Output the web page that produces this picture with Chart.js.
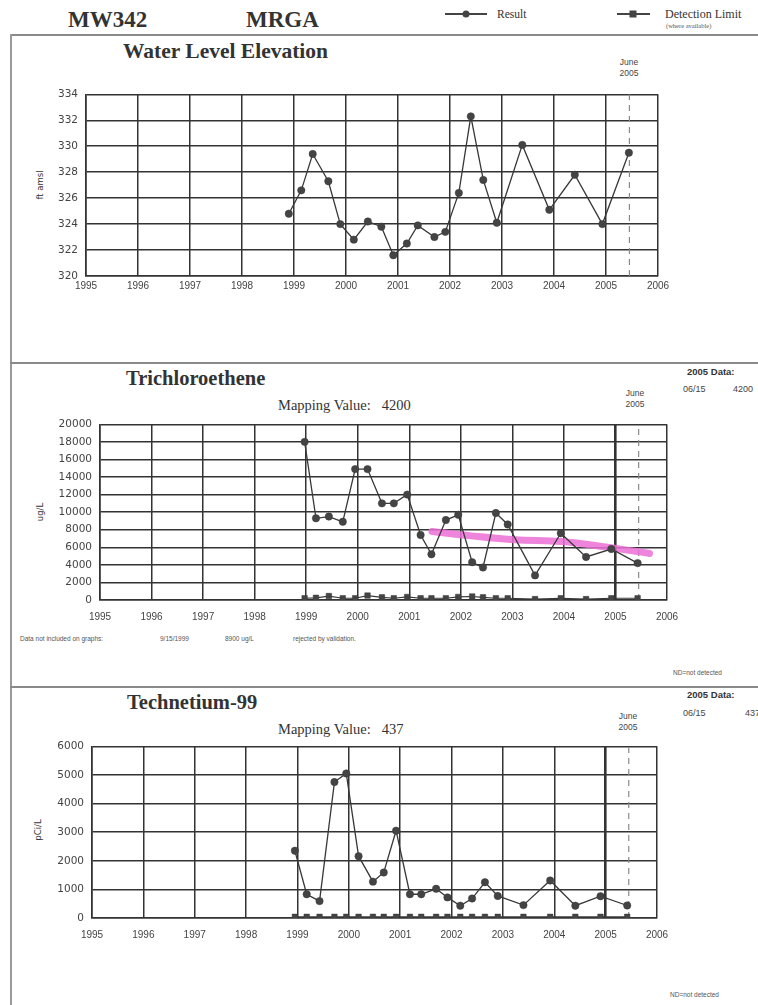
<!DOCTYPE html>
<html><head><meta charset="utf-8">
<script src="https://cdn.jsdelivr.net/npm/chart.js@4.4.1/dist/chart.umd.min.js"></script>
<style>
body{margin:0;background:#fff;width:758px;height:1005px;position:relative;overflow:hidden;font-family:"Liberation Serif",serif;color:#2a2a2a}
.t{position:absolute;white-space:pre;line-height:1;transform:translateY(-50%)}
.c{position:absolute;white-space:pre;line-height:1;transform:translate(-50%,-50%);text-align:center}
.r{position:absolute;white-space:pre;line-height:1;transform:translate(-50%,-50%) rotate(-90deg);font-family:"DejaVu Sans",sans-serif;font-size:8.5px;color:#333}
.rule{position:absolute;background:#8a8a8a}
canvas{position:absolute}
.h{font-weight:bold;font-size:23px;color:#333}
.ti{font-weight:bold;font-size:20.5px;color:#333}
.mv{font-size:14.5px;color:#333}
.jn{font-family:"Liberation Sans",Arial,sans-serif;font-size:8.5px;color:#444;line-height:1.25}
.dd{font-family:"Liberation Sans",Arial,sans-serif;font-weight:bold;font-size:9.5px;color:#333}
.dv{font-family:"Liberation Sans",Arial,sans-serif;font-size:9px;color:#444}
.sm{font-family:"Liberation Sans",Arial,sans-serif;font-size:6.5px;color:#555}
.lg{position:absolute;height:2px;background:#444}
.dot{position:absolute;width:7px;height:7px;border-radius:50%;background:#444;transform:translate(-50%,-50%)}
.sq{position:absolute;width:7px;height:7px;background:#444;transform:translate(-50%,-50%)}
</style></head><body>

<!-- header -->
<div class="t h" style="left:68px;top:19px">MW342</div>
<div class="t h" style="left:246px;top:19px">MRGA</div>
<div class="lg" style="left:445px;top:13px;width:42px"></div>
<div class="dot" style="left:466px;top:14px"></div>
<div class="t" style="left:497px;top:15px;font-size:11.5px;color:#333">Result</div>
<div class="lg" style="left:617px;top:13px;width:33px"></div>
<div class="sq" style="left:633px;top:14px"></div>
<div class="t" style="left:665px;top:14px;font-size:12px;color:#333">Detection Limit</div>
<div class="t" style="left:666px;top:26px;font-size:6.5px;color:#555">(where available)</div>

<div class="rule" style="left:10px;top:34px;width:748px;height:2px"></div>
<div class="rule" style="left:10px;top:34px;width:2px;height:971px;background:#9a9a9a"></div>
<div class="rule" style="left:10px;top:362px;width:748px;height:2px"></div>
<div class="rule" style="left:10px;top:686px;width:748px;height:2px"></div>

<!-- chart 1 texts -->
<div class="t ti" style="left:123px;top:52px;font-size:21.5px">Water Level Elevation</div>
<div class="c jn" style="left:629px;top:68px">June
2005</div>
<div class="r" style="left:40px;top:185px">ft amsl</div>

<!-- chart 2 texts -->
<div class="t ti" style="left:126px;top:378px">Trichloroethene</div>
<div class="t mv" style="left:278px;top:405px">Mapping Value:   4200</div>
<div class="c jn" style="left:635px;top:399px">June
2005</div>
<div class="t dd" style="left:687px;top:372px">2005 Data:</div>
<div class="t dv" style="left:683px;top:389px">06/15</div>
<div class="t dv" style="left:733px;top:389px">4200</div>
<div class="r" style="left:40px;top:512px">ug/L</div>
<div class="t sm" style="left:20px;top:639px">Data not included on graphs:</div>
<div class="t sm" style="left:160px;top:639px">9/15/1999</div>
<div class="t sm" style="left:225px;top:639px">8900 ug/L</div>
<div class="t sm" style="left:293px;top:639px">rejected by validation.</div>
<div class="t sm" style="left:673px;top:673px">ND=not detected</div>

<!-- chart 3 texts -->
<div class="t ti" style="left:127px;top:702px">Technetium-99</div>
<div class="t mv" style="left:278px;top:729px">Mapping Value:   437</div>
<div class="c jn" style="left:628px;top:722px">June
2005</div>
<div class="t dd" style="left:687px;top:695px">2005 Data:</div>
<div class="t dv" style="left:683px;top:713px">06/15</div>
<div class="t dv" style="left:745px;top:713px">437</div>
<div class="r" style="left:38px;top:830px">pCi/L</div>
<div class="t sm" style="left:670px;top:995px">ND=not detected</div>

<canvas id="c1" width="660" height="220" style="left:20px;top:80px"></canvas>
<canvas id="c2" width="670" height="214" style="left:20px;top:410px"></canvas>
<canvas id="c3" width="660" height="210" style="left:20px;top:732px"></canvas>

<script>
// ---------- data ----------
const yearTicks = [1995,1996,1997,1998,1999,2000,2001,2002,2003,2004,2005,2006];
const juneDate = 2005.45;

const wlTicks = [320,322,324,326,328,330,332,334];
const wlDates = [1998.90,1999.14,1999.36,1999.66,1999.89,2000.15,2000.42,2000.68,2000.91,2001.17,2001.38,2001.70,2001.91,2002.17,2002.40,2002.64,2002.90,2003.39,2003.91,2004.40,2004.93,2005.44];
const wlValues = [324.8,326.6,329.4,327.3,324.0,322.8,324.2,323.8,321.6,322.5,323.9,323.0,323.4,326.4,332.3,327.4,324.1,330.1,325.1,327.8,324.0,329.5];

const tceTicks = [0,2000,4000,6000,8000,10000,12000,14000,16000,18000,20000];
const tceDates = [1998.97,1999.19,1999.44,1999.71,1999.95,2000.19,2000.47,2000.70,2000.96,2001.22,2001.43,2001.71,2001.95,2002.22,2002.43,2002.68,2002.91,2003.44,2003.94,2004.43,2004.92,2005.43];
const tceValues = [18000,9300,9500,8900,14900,14900,11000,11000,12000,7400,5200,9100,9700,4300,3700,9900,8600,2800,7600,4900,5800,4200];
const tceDetect = [200,250,450,200,200,500,300,200,350,200,200,200,350,400,300,200,200,100,200,100,200,200];
const tceTrendDates = [2001.44,2002.20,2003.05,2003.95,2004.80,2005.66];
const tceTrendValues = [7800,7300,6850,6650,6050,5300];

const tcTicks = [0,1000,2000,3000,4000,5000,6000];
const tcDates = [1998.95,1999.18,1999.43,1999.72,1999.95,2000.19,2000.47,2000.68,2000.92,2001.19,2001.41,2001.70,2001.92,2002.17,2002.40,2002.65,2002.90,2003.40,2003.92,2004.41,2004.90,2005.42];
const tcValues = [2350,830,590,4750,5050,2160,1270,1590,3050,830,830,1020,720,430,680,1250,770,450,1310,430,760,437];
const tcDetect = [40,40,40,40,40,40,40,40,40,40,40,40,40,40,40,40,40,40,40,40,40,40];

// ---------- helpers ----------
const pts = (xs, ys) => xs.map((x, i) => ({x: x, y: ys[i]}));
const GRID = '#333';

function resultSet(xs, ys){
  return {data: pts(xs, ys), showLine: true, borderColor: '#383838', borderWidth: 1.3,
    pointStyle: 'circle', pointRadius: 3.7, pointBackgroundColor: '#444', pointBorderColor: '#383838',
    pointBorderWidth: 0.5, order: 1};
}
function detectSet(xs, ys){
  return {data: pts(xs, ys), showLine: true, borderColor: '#383838', borderWidth: 1.2,
    pointStyle: 'rect', pointRadius: 3.9, pointBackgroundColor: '#444', pointBorderColor: '#383838',
    pointBorderWidth: 0.5, order: 2};
}
function juneSet(lo, hi){
  return {data: [{x: juneDate, y: lo}, {x: juneDate, y: hi}], showLine: true, borderColor: '#8a8a8a',
    borderWidth: 1.2, borderDash: [6, 5], pointRadius: 0, order: 4};
}

function makeChart(id, datasets, o){
  new Chart(document.getElementById(id), {
    type: 'scatter',
    data: {datasets: datasets},
    options: {
      responsive: false, animation: false, devicePixelRatio: 1,
      layout: {padding: {top: o.padTop, right: o.padRight, left: 0, bottom: 0}},
      plugins: {legend: {display: false}, tooltip: {enabled: false}},
      scales: {
        x: {type: 'linear', min: 1995, max: 2006,
          afterBuildTicks: s => { s.ticks = yearTicks.map(v => ({value: v})); },
          afterFit: s => { s.height = o.xh; },
          ticks: {callback: v => String(v), autoSkip: false, maxRotation: 0, padding: o.xpad,
            font: {family: '"Liberation Sans", Arial, sans-serif', size: 10}, color: '#444'},
          grid: {color: GRID, drawTicks: false,
            lineWidth: c => (o.bold2005 && c.tick && c.tick.value === 2005) ? 2.6 : 1.5},
          border: {color: GRID, width: 1.6}
        },
        y: {type: 'linear', min: o.yTicks[0], max: o.yTicks[o.yTicks.length - 1],
          afterBuildTicks: s => { s.ticks = o.yTicks.map(v => ({value: v})); },
          afterFit: s => { s.width = o.yw; },
          ticks: {callback: v => String(v), padding: 8,
            font: {family: '"DejaVu Sans", sans-serif', size: 10.5}, color: '#444'},
          grid: {color: GRID, lineWidth: 1.5, drawTicks: false},
          border: {color: GRID, width: 1.6}
        }
      }
    }
  });
}

makeChart('c1', [resultSet(wlDates, wlValues), juneSet(320, 334)],
  {padTop: 9, padRight: 22, yw: 66, xh: 24, xpad: 4, yTicks: wlTicks, bold2005: false});

makeChart('c2', [
    resultSet(tceDates, tceValues),
    detectSet(tceDates, tceDetect),
    {data: pts(tceTrendDates, tceTrendValues), showLine: true, borderColor: 'rgba(236,110,214,0.85)',
      borderWidth: 7, pointRadius: 0, tension: 0.35, borderCapStyle: 'round', order: 3},
    juneSet(0, 20000)
  ],
  {padTop: 10, padRight: 23, yw: 80, xh: 24, xpad: 11, yTicks: tceTicks, bold2005: true});

makeChart('c3', [resultSet(tcDates, tcValues), detectSet(tcDates, tcDetect), juneSet(0, 6000)],
  {padTop: 10, padRight: 23, yw: 72, xh: 24, xpad: 11, yTicks: tcTicks, bold2005: true});
</script>
</body></html>
